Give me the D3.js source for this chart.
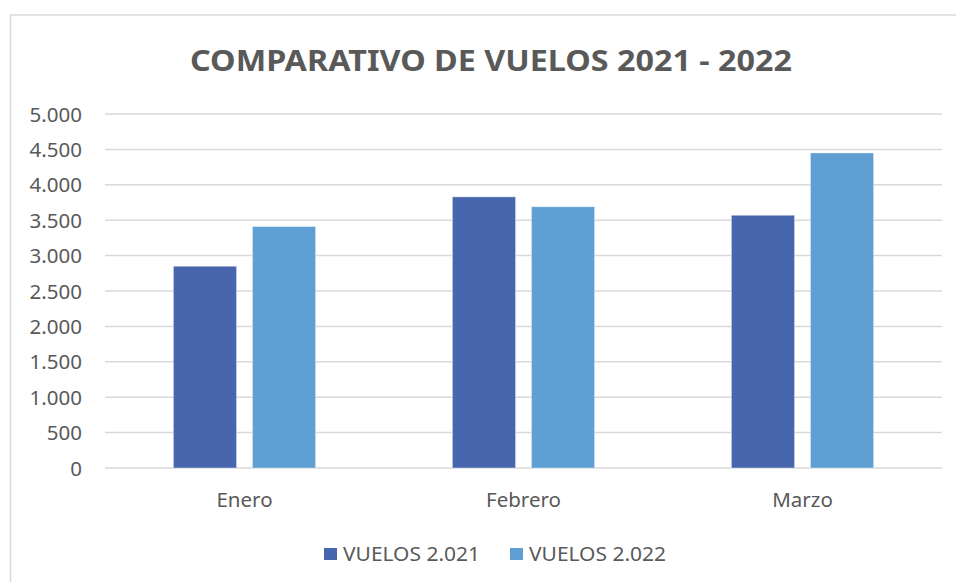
<!DOCTYPE html>
<html>
<head>
<meta charset="utf-8">
<script src="https://cdn.jsdelivr.net/npm/d3@7"></script>
<style>
    body { margin: 0; background: #fff; }
    text { font-family: "Noto Sans", "Open Sans", sans-serif; fill: #595959; }
</style>
</head>
<body>
<script>
const months = ["Enero", "Febrero", "Marzo"];
const series = ["VUELOS 2.021", "VUELOS 2.022"];
const vuelos2021 = [2850, 3830, 3570];
const vuelos2022 = [3410, 3690, 4450];
const yTicks = [0, 500, 1000, 1500, 2000, 2500, 3000, 3500, 4000, 4500, 5000];
const colors = ["#4866ad", "#609fd3"];

const width = 956;
const height = 582;
const plotLeft = 105, plotRight = 942, plotTop = 114, plotBottom = 468;

const rows = months.map((m, i) => ({ month: m, values: [vuelos2021[i], vuelos2022[i]] }));

const svg = d3.select("body")
    .append("svg")
    .attr("width", width)
    .attr("height", height);

// chart frame
svg.append("rect")
    .attr("x", 10.5)
    .attr("y", 15)
    .attr("width", 960)
    .attr("height", 600)
    .attr("fill", "#fff")
    .attr("stroke", "#d9d9d9")
    .attr("stroke-width", 1.5);

const x0 = d3.scaleBand()
    .domain(months)
    .range([plotLeft, plotRight])
    .paddingInner(0.49)
    .paddingOuter(0.245);

const x1 = d3.scaleBand()
    .domain([0, 1])
    .range([0, x0.bandwidth()])
    .paddingInner(0.2);

const y = d3.scaleLinear()
    .domain([0, 5000])
    .range([plotBottom, plotTop]);

const fmt = d3.formatLocale({ decimal: ",", thousands: ".", grouping: [3], currency: ["", ""] }).format(",");

// gridlines
svg.append("g")
    .selectAll("line")
    .data(yTicks)
    .join("line")
    .attr("x1", plotLeft)
    .attr("x2", plotRight)
    .attr("y1", d => y(d))
    .attr("y2", d => y(d))
    .attr("stroke", "#d9d9d9")
    .attr("stroke-width", 1.5);

// y labels
svg.append("g")
    .selectAll("text")
    .data(yTicks)
    .join("text")
    .attr("x", 82)
    .attr("y", d => y(d) + 7.5)
    .attr("text-anchor", "end")
    .attr("font-size", 20.5)
    .text(d => fmt(d));

// bars
svg.append("g")
    .selectAll("g")
    .data(rows)
    .join("g")
    .attr("transform", d => `translate(${x0(d.month)},0)`)
    .selectAll("rect")
    .data(d => d.values)
    .join("rect")
    .attr("x", (d, i) => x1(i))
    .attr("y", d => y(d))
    .attr("width", x1.bandwidth())
    .attr("height", d => plotBottom - y(d))
    .attr("fill", (d, i) => colors[i])
    .attr("stroke", "rgba(255,255,255,0.5)")
    .attr("stroke-width", 0.8);

// x labels
svg.append("g")
    .selectAll("text")
    .data(months)
    .join("text")
    .attr("x", d => x0(d) + x0.bandwidth() / 2)
    .attr("y", 507)
    .attr("text-anchor", "middle")
    .attr("font-size", 20.5)
    .text(d => d);

// title
svg.append("text")
    .attr("x", 491)
    .attr("y", 71)
    .attr("text-anchor", "middle")
    .attr("font-size", 29)
    .attr("font-weight", "bold")
    .attr("textLength", 602)
    .attr("lengthAdjust", "spacingAndGlyphs")
    .text("COMPARATIVO DE VUELOS 2021 - 2022");

// legend
const legX = [324, 510];
const leg = svg.append("g")
    .selectAll("g")
    .data(series)
    .join("g")
    .attr("transform", (d, i) => `translate(${legX[i]},548)`);

leg.append("rect")
    .attr("width", 13)
    .attr("height", 12)
    .attr("fill", (d, i) => colors[i]);

leg.append("text")
    .attr("x", 19)
    .attr("y", 12.5)
    .attr("font-size", 20.5)
    .attr("textLength", 137)
    .attr("lengthAdjust", "spacingAndGlyphs")
    .text(d => d);
</script>
</body>
</html>
